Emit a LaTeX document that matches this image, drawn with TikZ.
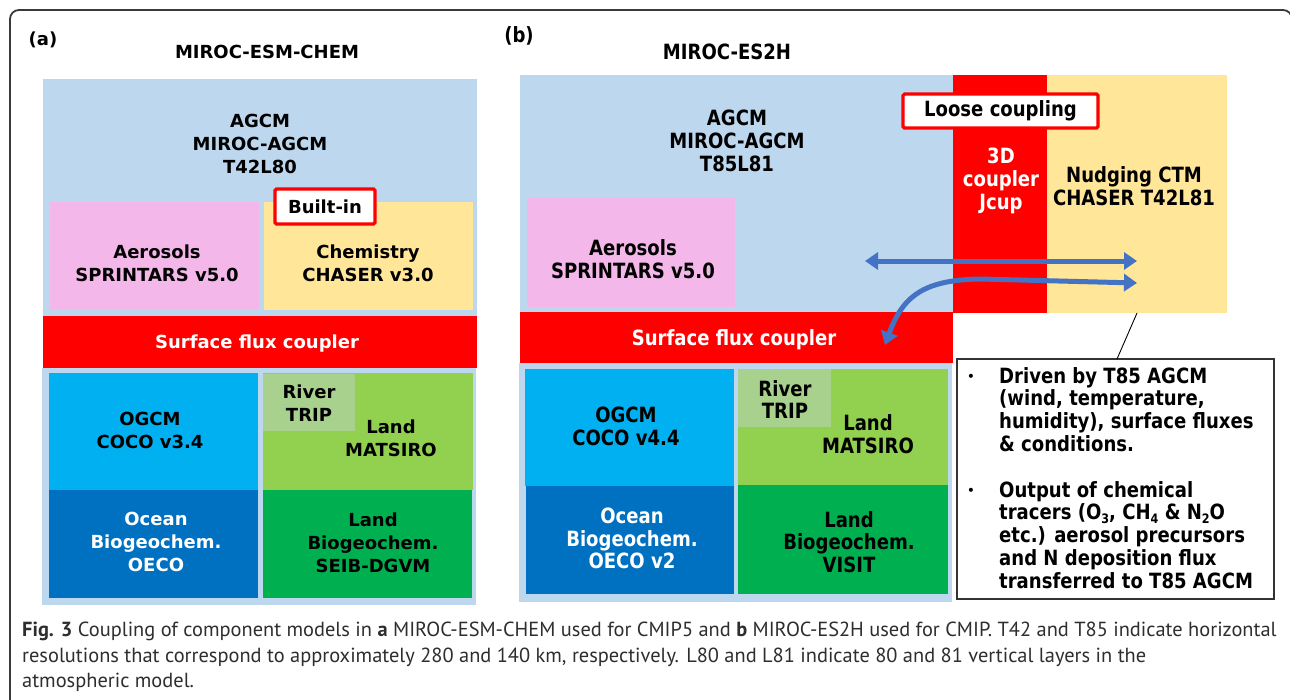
\documentclass[tikz,border=0pt]{standalone}
\usepackage{fontspec}
\setmainfont{DejaVu Sans}
\newfontfamily\condf{DejaVu Sans}[FakeStretch=0.86]
\newfontfamily\capf{PT Sans}
\usetikzlibrary{fit,arrows.meta}
\definecolor{agcmblue}{HTML}{BDD7EE}
\definecolor{aeropink}{HTML}{F4B7EA}
\definecolor{chemyellow}{HTML}{FFE699}
\definecolor{cplred}{HTML}{FF0000}
\definecolor{ogcmcyan}{HTML}{00B0F0}
\definecolor{oceanblue}{HTML}{0070C0}
\definecolor{landgreen}{HTML}{92D050}
\definecolor{rivergreen}{HTML}{A9D18E}
\definecolor{biogreen}{HTML}{00B050}
\definecolor{arrowblue}{HTML}{4472C4}
\definecolor{framegray}{HTML}{3A3A3A}
\newcommand\mysub[1]{\raisebox{-0.3ex}{\fontsize{13}{13}\selectfont #1}}
\begin{document}
\begin{tikzpicture}[x=1pt,y=-1pt,
  blk/.style={inner sep=0pt, outer sep=0pt, draw=none},
  ta/.style={font=\fontsize{18}{23}\selectfont\bfseries, align=center, inner sep=0pt},
  tb/.style={font=\condf\bfseries\fontsize{21}{22.7}\selectfont, align=center, inner sep=0pt},
  tc/.style={font=\condf\bfseries\fontsize{21}{22.75}\selectfont, align=left, inner sep=0pt, anchor=north west},
  tagbox/.style={draw=cplred, line width=3.2pt, fill=white, rounded corners=1.5pt, inner sep=0pt},
  barrow/.style={draw=arrowblue, line width=5pt, {Triangle[width=17pt,length=13pt]}-{Triangle[width=17pt,length=13pt]}}
]
\useasboundingbox (0,0) rectangle (1290,699);
\clip (0,0) rectangle (1290,699);
\fill[white] (0,0) rectangle (1290,699);
% frame
\draw[framegray, line width=1.8pt, rounded corners=9pt] (10,705) -- (10,10) -- (1292,10) -- (1292,60);

% ---------------- panel (a) ----------------
\node[ta] (labA) at (43,40) {(a)};
\node[ta] (titA) at (267,52) {MIROC-ESM-CHEM};
\node[blk, fill=agcmblue, fit={(43,79)(477,316)}] (agcmA) {};
\node[ta] (agcmAt) at (260,144) {AGCM\\MIROC-AGCM\\T42L80};
\node[blk, fill=aeropink, fit={(50,202)(259,310)}] (aeroA) {};
\node[ta] (aeroAt) at (157,263.5) {Aerosols\\SPRINTARS v5.0};
\node[blk, fill=chemyellow, fit={(264,202)(473,310)}] (chemA) {};
\node[ta] (chemAt) at (368,263.5) {Chemistry\\CHASER v3.0};
\node[tagbox, fit={(275,189)(375,224)}] (builtin) {};
\node[ta] at (builtin.center) (builtint) {Built-in};
\node[blk, fill=cplred, fit={(43,316)(477,368)}] (sfcA) {};
\node[ta, text=white] (sfcAt) at (257,344) {Surface flux coupler};
\node[blk, fill=agcmblue, fit={(42,368)(476,605)}] (lowA) {};
\node[blk, fill=ogcmcyan, fit={(49,373)(258,490)}] (ogcmA) {};
\node[ta] (ogcmAt) at (150,430) {OGCM\\COCO v3.4};
\node[blk, fill=oceanblue, fit={(49,490)(258,598)}] (oceanA) {};
\node[ta, text=white] (oceanAt) at (156,542) {Ocean\\Biogeochem.\\OECO};
\node[blk, fill=landgreen, fit={(263,373)(473,490)}] (landA) {};
\node[blk, fill=rivergreen, fit={(263,374)(355,431)}] (riverA) {};
\node[ta] (riverAt) at (309,403) {River\\TRIP};
\node[ta] (landAt) at (391,438) {Land\\MATSIRO};
\node[blk, fill=biogreen, fit={(263,490)(472,598)}] (lbioA) {};
\node[ta] (lbioAt) at (373,543) {Land\\Biogeochem.\\SEIB-DGVM};

% ---------------- panel (b) ----------------
\node[tb] (labB) at (519,36) {(b)};
\node[tb] (titB) at (727,52) {MIROC-ES2H};
\node[blk, fill=agcmblue, fit={(520,75)(953,312)}] (agcmB) {};
\node[tb] (agcmBt) at (737,141) {AGCM\\MIROC-AGCM\\T85L81};
\node[blk, fill=aeropink, fit={(527,198)(735,307)}] (aeroB) {};
\node[tb] (aeroBt) at (633,259.5) {Aerosols\\SPRINTARS v5.0};
\node[blk, fill=cplred, fit={(953,75)(1047,313)}] (jcup) {};
\node[tb, text=white] (jcupt) at (1001,181) {3D\\coupler\\Jcup};
\node[blk, fill=chemyellow, fit={(1047,75)(1227,313)}] (ctm) {};
\node[tb] (ctmt) at (1134,186) {Nudging CTM\\CHASER T42L81};
\node[tagbox, fit={(903,94)(1098,128)}] (loose) {};
\node[tb] at (loose.center) (looset) {Loose coupling};
\node[blk, fill=cplred, fit={(520,312)(953,363)}] (sfcB) {};
\node[tb, text=white] (sfcBt) at (734,340) {Surface flux coupler};
\node[blk, fill=agcmblue, fit={(519,363)(952,602)}] (lowB) {};
\node[blk, fill=ogcmcyan, fit={(525,369)(734,486)}] (ogcmB) {};
\node[tb] (ogcmBt) at (626,426.5) {OGCM\\COCO v4.4};
\node[blk, fill=oceanblue, fit={(526,486)(734,594)}] (oceanB) {};
\node[tb, text=white] (oceanBt) at (632,538.5) {Ocean\\Biogeochem.\\OECO v2};
\node[blk, fill=landgreen, fit={(738,369)(948,485)}] (landB) {};
\node[blk, fill=rivergreen, fit={(738,369)(831,427)}] (riverB) {};
\node[tb] (riverBt) at (785,399.5) {River\\TRIP};
\node[tb] (landBt) at (868,434.5) {Land\\MATSIRO};
\node[blk, fill=biogreen, fit={(738,485)(948,594)}] (lbioB) {};
\node[tb] (lbioBt) at (849,542) {Land\\Biogeochem.\\VISIT};

% arrows
\coordinate (a1s) at (865,261);
\coordinate (a1e) at (1137,261);
\draw[barrow] (a1s) -- (a1e);
\coordinate (a2s) at (885,345);
\coordinate (a2m) at (980,279);
\coordinate (a2e) at (1137,283);
\draw[barrow] (a2s) .. controls (903,295) and (925,280) .. (a2m) -- (a2e);

% callout
\node[draw=black!80, line width=1.2pt, fill=white, inner sep=0pt, fit={(957,359)(1274,599)}] (callout) {};
\coordinate (cl1) at (1137,313);
\coordinate (cl2) at (1117,359);
\draw[black, line width=0.9pt] (cl1) -- (cl2);
\node[font=\fontsize{14}{14}\selectfont, inner sep=0pt] (bul1) at (971,378) {\textbullet};
\node[font=\fontsize{14}{14}\selectfont, inner sep=0pt] (bul2) at (971,492) {\textbullet};
\node[tc] (co1) at (999,367) {Driven by T85 AGCM\\(wind, temperature,\\humidity), surface fluxes\\\& conditions.};
\node[tc] (co2) at (999,481) {Output of chemical\\tracers (O\mysub{3}, CH\mysub{4} \& N\mysub{2}O\\etc.) aerosol precursors\\and N deposition flux\\transferred to T85 AGCM};

% caption
\node[font=\capf\fontsize{20.4}{25.5}\selectfont, text=black!82, align=left, inner sep=0pt, anchor=north west] (caption) at (22,622)
 {\textbf{Fig. 3} Coupling of component models in \textbf{a} MIROC-ESM-CHEM used for CMIP5 and \textbf{b} MIROC-ES2H used for CMIP. T42 and T85 indicate horizontal\\
 resolutions that correspond to approximately 280 and 140 km, respectively. L80 and L81 indicate 80 and 81 vertical layers in the\\
 atmospheric model.};
\end{tikzpicture}
\end{document}
